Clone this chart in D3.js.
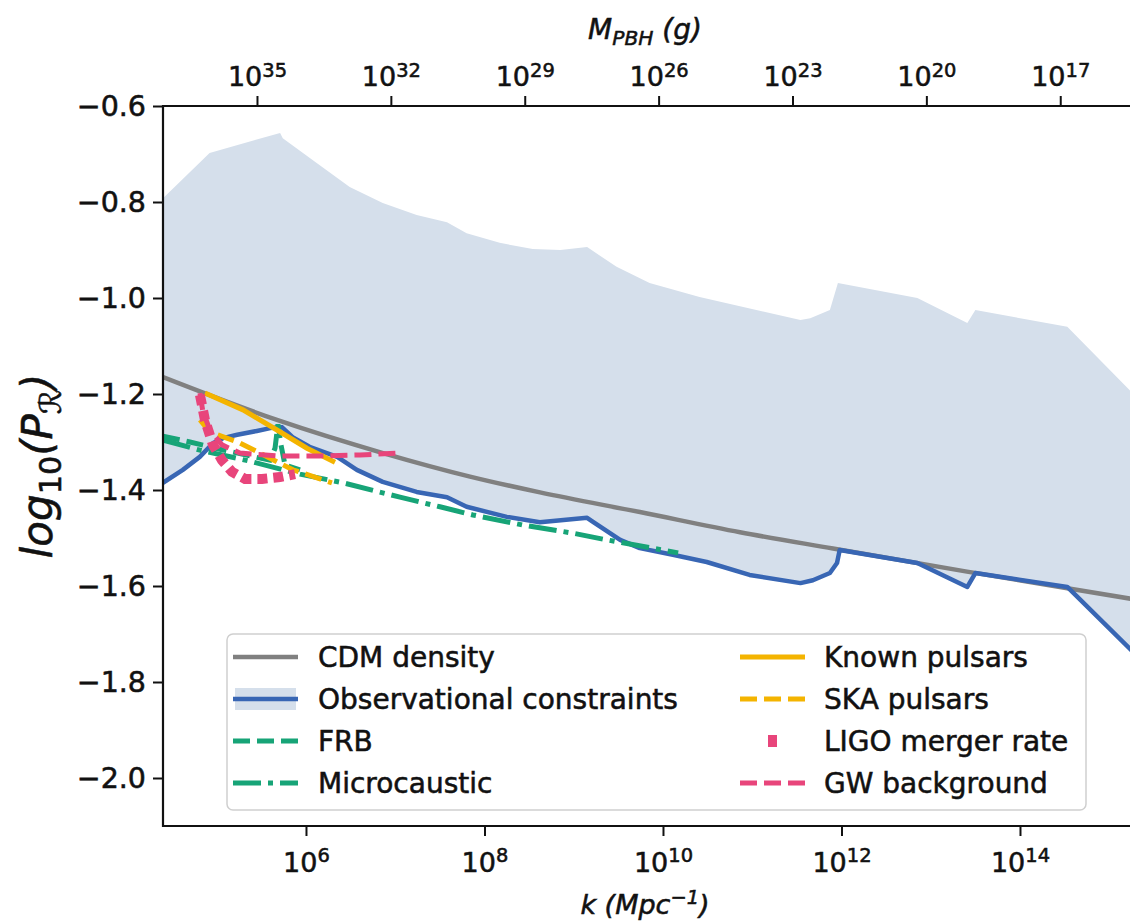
<!DOCTYPE html>
<html><head><meta charset="utf-8">
<script src="https://cdn.jsdelivr.net/npm/d3@7"></script>
<style>
body{margin:0;background:#fff}
svg{display:block}
text{font-family:"DejaVu Sans",sans-serif;fill:#111;stroke:#111;stroke-width:0.55px}
</style>
</head><body>
<svg id="c" width="1130" height="923"></svg>
<script>
// ---- data (k given as log10 exponents, values are log10(P_R)) ----
const kDomainExp = [4.398, 15.255];
const yDomain = [-2.1, -0.6];
const bottomTickExp = [6, 8, 10, 12, 14];
const topTickExp = [35, 32, 29, 26, 23, 20, 17];
const yTicks = [-2.0, -1.8, -1.6, -1.4, -1.2, -1.0, -0.8, -0.6];
const massOffsetExp = 45.902; // log10 M = massOffsetExp - 2 log10 k

const upperLogK = [4.398, 4.92, 5.71, 5.74, 6.12, 6.49, 6.86, 7.24, 7.58, 7.80, 8.17, 8.54, 8.85, 9.15, 9.48, 9.85, 10.41, 11.54, 11.65, 11.87, 11.96, 12.85, 13.41, 13.50, 14.53, 15.255];
const upperVal  = [-0.792, -0.698, -0.656, -0.667, -0.719, -0.769, -0.802, -0.827, -0.842, -0.865, -0.885, -0.898, -0.900, -0.894, -0.935, -0.969, -0.998, -1.046, -1.042, -1.025, -0.969, -1.000, -1.052, -1.025, -1.060, -1.197];

const obsLogK = [4.398, 4.62, 4.81, 4.96, 5.07, 5.23, 5.45, 5.60, 5.73, 5.85, 6.04, 6.35, 6.57, 6.86, 7.24, 7.58, 7.80, 8.25, 8.62, 9.15, 9.22, 9.52, 9.74, 10.11, 10.49, 10.97, 11.54, 11.68, 11.87, 11.95, 11.98, 12.85, 13.41, 13.50, 14.53, 15.255];
const obsVal  = [-1.385, -1.358, -1.331, -1.302, -1.292, -1.285, -1.277, -1.271, -1.269, -1.290, -1.310, -1.331, -1.358, -1.383, -1.404, -1.415, -1.435, -1.456, -1.467, -1.458, -1.467, -1.504, -1.521, -1.535, -1.550, -1.577, -1.594, -1.588, -1.573, -1.552, -1.525, -1.552, -1.602, -1.573, -1.602, -1.735];

const cdmLogK = [4.398, 5.675, 6.863, 7.838, 8.622, 9.742, 10.863, 11.905, 13.406, 15.255];
const cdmVal  = [-1.165, -1.254, -1.323, -1.372, -1.405, -1.446, -1.488, -1.522, -1.570, -1.627];

const frbLogK = [4.398, 4.70, 5.036, 5.373, 5.597, 5.653, 5.686, 5.720, 5.765, 5.933];
const frbVal  = [-1.288, -1.300, -1.315, -1.329, -1.338, -1.313, -1.263, -1.306, -1.348, -1.358];

const microLogK = [4.398, 4.812, 5.373, 5.933, 6.415, 7.053, 7.501, 7.871, 8.431, 8.992, 9.373, 10.112, 10.17];
const microVal  = [-1.296, -1.317, -1.340, -1.367, -1.385, -1.415, -1.435, -1.452, -1.473, -1.490, -1.504, -1.529, -1.531];

const knownLogK = [4.868, 5.294, 5.675, 6.011, 6.325];
const knownVal  = [-1.198, -1.233, -1.275, -1.313, -1.342];

const skaLogK = [4.812, 4.924, 5.260, 5.854, 6.291];
const skaVal  = [-1.254, -1.279, -1.302, -1.358, -1.385];

const ligoLogK = [4.812, 4.868, 4.958, 5.059, 5.171, 5.317, 5.507, 5.709, 5.877];
const ligoVal  = [-1.202, -1.254, -1.306, -1.338, -1.362, -1.377, -1.377, -1.373, -1.367];

const gwLogK = [4.812, 4.846, 4.924, 5.059, 5.260, 5.675, 6.157, 6.605, 7.053];
const gwVal  = [-1.198, -1.238, -1.275, -1.306, -1.323, -1.329, -1.329, -1.327, -1.323];

const col = {
  fill: "#d5dfeb", cdm: "#808080", obs: "#3866b4", green: "#17a477",
  yellow: "#f4b400", pink: "#e8457b"
};

// ---- layout ----
const L = 163, R = 1132, T = 106, B = 826;
const svg = d3.select("#c");
const x = d3.scaleLog().domain(kDomainExp.map(e => 10 ** e)).range([L, R]);
const y = d3.scaleLinear().domain(yDomain).range([B, T]);
const xm = d3.scaleLog()
  .domain(kDomainExp.map(e => 10 ** (massOffsetExp - 2 * e)))
  .range([L, R]);

const pts = (ks, vs) => ks.map((e, i) => [10 ** e, vs[i]]);
const line = d3.line().x(d => x(d[0])).y(d => y(d[1]));

svg.append("defs").append("clipPath").attr("id", "clip")
  .append("rect").attr("x", L).attr("y", T).attr("width", R - L).attr("height", B - T);
const plot = svg.append("g").attr("clip-path", "url(#clip)");

// shaded allowed region between observational constraint and upper bound
const upperPts = pts(upperLogK, upperVal);
const obsPts = pts(obsLogK, obsVal);
plot.append("path")
  .attr("d", line(upperPts.concat(obsPts.slice().reverse())) + "Z")
  .attr("fill", col.fill).attr("stroke", "none");

// CDM
plot.append("path").attr("d", line.curve(d3.curveMonotoneX)(pts(cdmLogK, cdmVal)))
  .attr("fill", "none").attr("stroke", col.cdm).attr("stroke-width", 4.5);
line.curve(d3.curveLinear);

// observational
plot.append("path").attr("d", line(obsPts))
  .attr("fill", "none").attr("stroke", col.obs).attr("stroke-width", 4.5)
  .attr("stroke-linejoin", "round");

const series = [
  {ks: frbLogK, vs: frbVal, c: col.green, w: 5, dash: "17,7"},
  {ks: microLogK, vs: microVal, c: col.green, w: 5, dash: "28,7,5,7"},
  {ks: knownLogK, vs: knownVal, c: col.yellow, w: 5, dash: null},
  {ks: skaLogK, vs: skaVal, c: col.yellow, w: 5, dash: "17,7"},
  {ks: ligoLogK, vs: ligoVal, c: col.pink, w: 10, dash: "10,6"},
  {ks: gwLogK, vs: gwVal, c: col.pink, w: 5, dash: "17,7"}
];
series.forEach(s => {
  plot.append("path").attr("d", line(pts(s.ks, s.vs)))
    .attr("fill", "none").attr("stroke", s.c).attr("stroke-width", s.w)
    .attr("stroke-dasharray", s.dash);
});

// ---- axes ----
const fs = 27;
function powLabel(sel, expFn) {
  sel.each(function(d) {
    const t = d3.select(this).text(null);
    t.append("tspan").text("10");
    t.append("tspan").attr("dy", "-0.48em").attr("font-size", "0.72em").text(expFn(d));
  });
}
const gb = svg.append("g").attr("transform", `translate(0,${B})`)
  .call(d3.axisBottom(x).tickValues(bottomTickExp.map(e => 10 ** e)).tickSize(10).tickPadding(10));
gb.selectAll("text").attr("font-size", fs).attr("dy", "0.95em");
powLabel(gb.selectAll(".tick text"), d => String(Math.round(Math.log10(d))));

const gt = svg.append("g").attr("transform", `translate(0,${T})`)
  .call(d3.axisTop(xm).tickValues(topTickExp.map(e => 10 ** e)).tickSize(10).tickPadding(10));
gt.selectAll("text").attr("font-size", fs);
powLabel(gt.selectAll(".tick text"), d => String(Math.round(Math.log10(d))));

const gl = svg.append("g").attr("transform", `translate(${L},0)`)
  .call(d3.axisLeft(y).tickValues(yTicks).tickFormat(d3.format(".1f")).tickSize(10).tickPadding(7));
gl.selectAll("text").attr("font-size", 28.5);

[gb, gt, gl].forEach(g => {
  g.select(".domain").remove();
  g.selectAll(".tick line").attr("stroke", "#111").attr("stroke-width", 2);
  g.selectAll("text").attr("fill", "#111").attr("font-family", "DejaVu Sans");
});
// spines
svg.append("path").attr("d", `M${R},${T}H${L}V${B}H${R}`)
  .attr("fill", "none").attr("stroke", "#111").attr("stroke-width", 2.2);

// axis titles
const tt = svg.append("text").attr("x", 645).attr("y", 39).attr("text-anchor", "middle")
  .attr("font-size", 28).attr("font-style", "italic");
tt.append("tspan").text("M");
tt.append("tspan").attr("dy", "0.3em").attr("font-size", "0.72em").text("PBH");
tt.append("tspan").attr("dy", "-0.22em").text(" (g)");

const bt = svg.append("text").attr("x", 645).attr("y", 914).attr("text-anchor", "middle")
  .attr("font-size", 27).attr("font-style", "italic");
bt.append("tspan").text("k (Mpc");
bt.append("tspan").attr("dy", "-0.5em").attr("font-size", "0.72em").text("−1");
bt.append("tspan").attr("dy", "0.36em").text(")");

const lt = svg.append("text").attr("transform", "translate(52,466) rotate(-90)")
  .attr("text-anchor", "middle").attr("font-size", 42).attr("font-style", "italic");
lt.append("tspan").text("log");
lt.append("tspan").attr("dy", "0.3em").attr("font-size", "0.72em").attr("font-style", "normal").text("10");
lt.append("tspan").attr("dy", "-0.22em").text("(P");
lt.append("tspan").attr("dy", "0.3em").attr("font-size", "0.72em").text("ℛ");
lt.append("tspan").attr("dy", "-0.22em").text(")");

// ---- legend ----
const lg = svg.append("g");
lg.append("rect").attr("x", 227).attr("y", 634).attr("width", 859).attr("height", 176)
  .attr("rx", 6).attr("fill", "#fff").attr("fill-opacity", 0.85)
  .attr("stroke", "#cfcfcf").attr("stroke-width", 1.5);
const legendItems = [
  {label: "CDM density", c: col.cdm, w: 4.5, dash: null, col: 0, row: 0},
  {label: "Observational constraints", c: col.obs, w: 4.5, dash: null, col: 0, row: 1, band: true},
  {label: "FRB", c: col.green, w: 5, dash: "17,7", col: 0, row: 2},
  {label: "Microcaustic", c: col.green, w: 5, dash: "28,7,5,7", col: 0, row: 3},
  {label: "Known pulsars", c: col.yellow, w: 5, dash: null, col: 1, row: 0},
  {label: "SKA pulsars", c: col.yellow, w: 5, dash: "17,7", col: 1, row: 1},
  {label: "LIGO merger rate", c: col.pink, w: 10, dash: null, col: 1, row: 2, square: true},
  {label: "GW background", c: col.pink, w: 5, dash: "17,7", col: 1, row: 3}
];
const colX = [233, 740], textX = [318, 824];
legendItems.forEach(it => {
  const cy = 657 + it.row * 42;
  const x0 = colX[it.col], x1 = x0 + 65;
  if (it.band) lg.append("rect").attr("x", x0 + 2).attr("y", cy - 11).attr("width", 61).attr("height", 22).attr("fill", col.fill);
  if (it.square) {
    lg.append("rect").attr("x", x0 + 28).attr("y", cy - 6).attr("width", 9).attr("height", 12).attr("fill", it.c);
  } else {
    lg.append("line").attr("x1", x0).attr("x2", x1).attr("y1", cy).attr("y2", cy)
      .attr("stroke", it.c).attr("stroke-width", it.w).attr("stroke-dasharray", it.dash);
  }
  lg.append("text").attr("x", textX[it.col]).attr("y", cy).attr("dy", "0.36em")
    .attr("font-size", 28).text(it.label);
});
</script>
</body></html>
